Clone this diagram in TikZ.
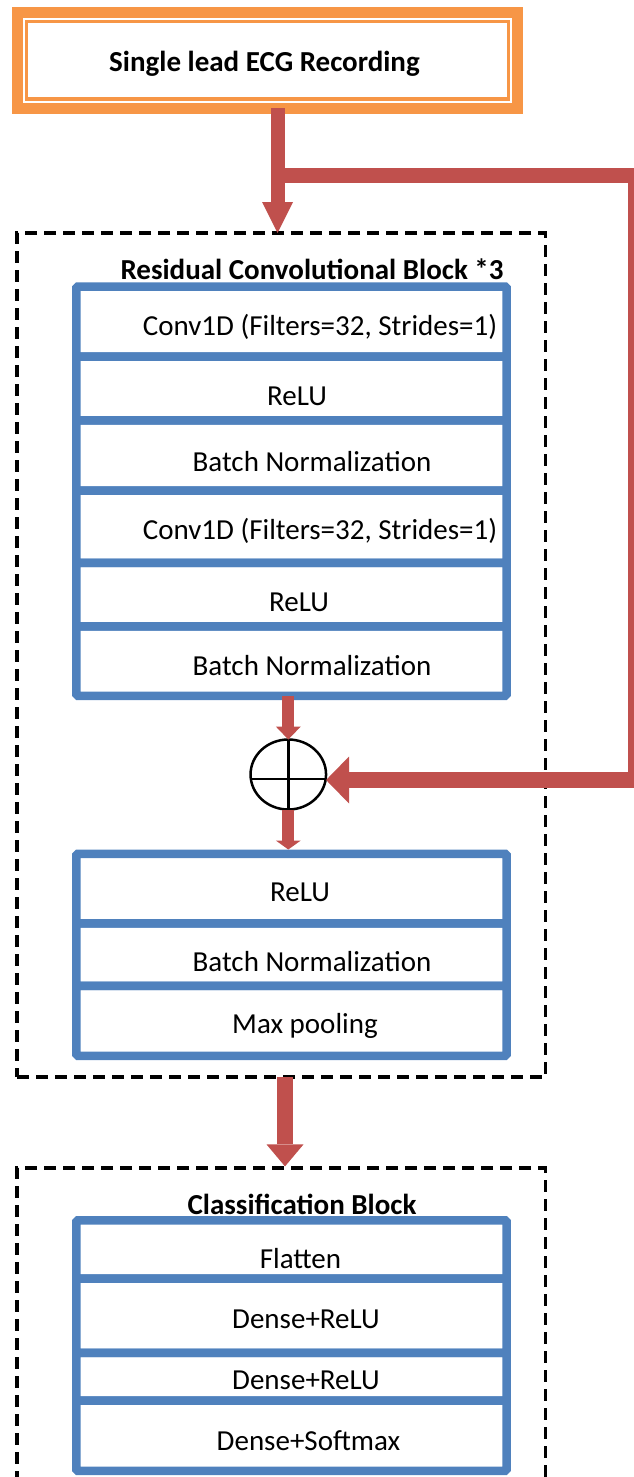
\documentclass[tikz,border=0pt]{standalone}
\usepackage{fontspec}
\setmainfont{Carlito}
\usetikzlibrary{arrows.meta,shapes.geometric}
\definecolor{blueC}{HTML}{4F81BD}
\definecolor{redC}{HTML}{C0504D}
\definecolor{orangeC}{HTML}{F79646}
\begin{document}
\begin{tikzpicture}[x=1pt,y=-1pt,
  rowbox/.style={draw=blueC, line width=8.5pt, rounded corners=1.5pt, minimum width=430.25pt, inner sep=0pt, outer sep=0pt, anchor=north},
  lbl/.style={anchor=base, inner sep=0pt, outer sep=0pt, font=\fontsize{29}{34}\selectfont},
  ttl/.style={anchor=base, inner sep=0pt, outer sep=0pt, font=\fontsize{29}{34}\selectfont\bfseries},
  dashbox/.style={draw=black, line width=3.2pt, dash pattern=on 12pt off 7pt, inner sep=0pt, outer sep=0pt, anchor=north west},
  redline/.style={draw=redC, line join=miter}
]
\useasboundingbox (0,0) rectangle (633,1477);

% dashed blocks
\node[dashbox, minimum width=528.5pt, minimum height=844pt] (res) at (17,233) {};
\node[dashbox, minimum width=528.5pt, minimum height=312pt] (cls) at (17,1168) {};

% input box
\node[draw=orangeC, line width=11pt, fill=white, minimum width=500.6pt, minimum height=96.3pt, inner sep=0pt, outer sep=0pt] (rec) at (267.5,60.35) {};
\draw[orangeC, line width=3.5pt] ([xshift=9.25pt,yshift=-9.25pt]rec.north west) rectangle ([xshift=-9.25pt,yshift=9.25pt]rec.south east);

% residual block rows
\node[rowbox, minimum height=70.2pt] (r1) at (291.4,286.5) {};
\node[rowbox, minimum height=63.6pt] (r2) at (291.4,356.7) {};
\node[rowbox, minimum height=70.2pt] (r3) at (291.4,420.3) {};
\node[rowbox, minimum height=72.3pt] (r4) at (291.4,490.5) {};
\node[rowbox, minimum height=63.5pt] (r5) at (291.4,562.8) {};
\node[rowbox, minimum height=69.45pt] (r6) at (291.4,626.3) {};

\node[rowbox, minimum height=69.55pt] (s1) at (291.4,853.75) {};
\node[rowbox, minimum height=62.5pt] (s2) at (291.4,923.3) {};
\node[rowbox, minimum height=69.95pt] (s3) at (291.4,985.8) {};

% classification rows
\node[rowbox, minimum height=58.45pt] (t1) at (291.4,1220.25) {};
\node[rowbox, minimum height=74.1pt] (t2) at (291.4,1278.7) {};
\node[rowbox, minimum height=47.7pt] (t3) at (291.4,1352.8) {};
\node[rowbox, minimum height=70.25pt] (t4) at (291.4,1400.5) {};

% sum node
\node[draw=black, ellipse, line width=2.5pt, minimum width=75.5pt, minimum height=70pt, inner sep=0pt, outer sep=0pt] (sum) at (288.3,774.5) {};
\draw[line width=2.5pt] (sum.north) -- (sum.south);
\draw[line width=2.5pt] ([yshift=-4.5pt]sum.west) -- ([yshift=-4.5pt]sum.east);

% connectors
\coordinate (p1) at (277.5,0);
\coordinate (split) at (277.5,175.5);
\coordinate (rt) at (636,175.5);
\coordinate (rb) at (636,780);
\coordinate (p2) at (285,0);

\draw[redline, line width=14pt, -{Triangle[width=31pt,length=31pt,line width=0pt]}] (rec.south -| p1) -- (res.north -| p1);
\draw[redline, line width=15.6pt, -{Triangle[width=47pt,length=23pt,line width=0pt]}] (split) -- (rt) -- (rb) -- (sum.east |- rb);
\draw[redline, line width=12pt, -{Triangle[width=25pt,length=13pt,line width=0pt]}] (r6.south -| sum.north) -- (sum.north);
\draw[redline, line width=12pt, -{Triangle[width=25pt,length=9pt,line width=0pt]}] (sum.south) -- ([yshift=4.25pt]s1.north -| sum.south);
\draw[redline, line width=16pt, -{Triangle[width=37pt,length=22pt,line width=0pt]}] (res.south -| p2) -- ([yshift=1.6pt]cls.north -| p2);

% texts
\node[ttl] (tin) at (264.5,71.7) {Single lead ECG Recording};
\node[ttl] (tres) at (312,279) {Residual Convolutional Block *3};
\node[lbl] (l1) at (320,335.4) {Conv1D (Filters=32, Strides=1)};
\node[lbl] (l2) at (297,405.4) {ReLU};
\node[lbl] (l3) at (312,471.7) {Batch Normalization};
\node[lbl] (l4) at (320,539.4) {Conv1D (Filters=32, Strides=1)};
\node[lbl] (l5) at (299,611.7) {ReLU};
\node[lbl] (l6) at (312,675.7) {Batch Normalization};
\node[lbl] (m1) at (300,901.7) {ReLU};
\node[lbl] (m2) at (312,971.7) {Batch Normalization};
\node[lbl] (m3) at (305,1033.7) {Max pooling};
\node[ttl] (tcls) at (302,1214) {Classification Block};
\node[lbl] (n1) at (300.5,1268.7) {Flatten};
\node[lbl] (n2) at (306,1328.7) {Dense+ReLU};
\node[lbl] (n3) at (306,1389.4) {Dense+ReLU};
\node[lbl] (n4) at (308.5,1450.4) {Dense+Softmax};
\end{tikzpicture}
\end{document}
